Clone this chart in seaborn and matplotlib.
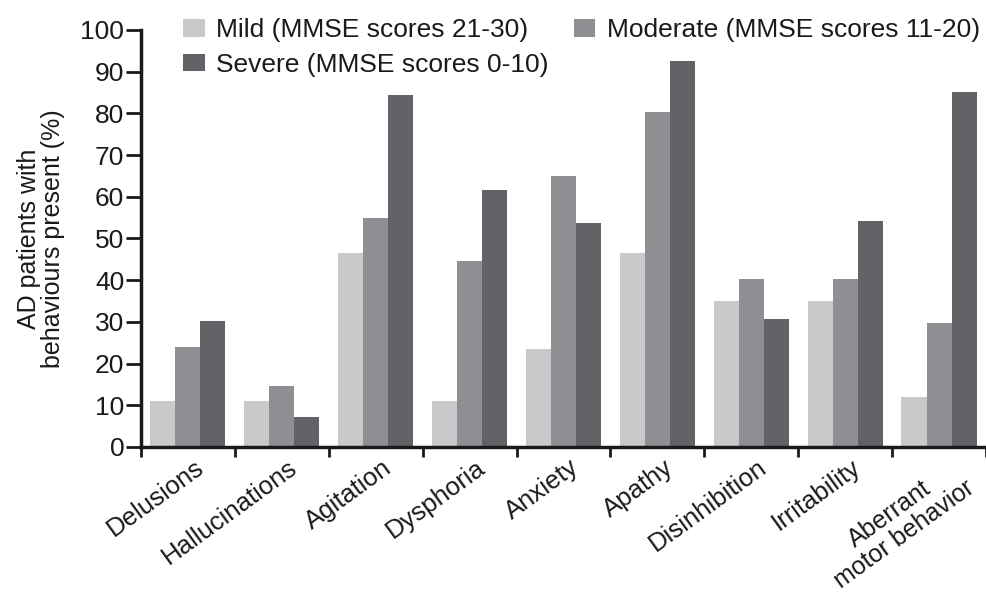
import pandas as pd
import numpy as np
import matplotlib
matplotlib.use("Agg")
import matplotlib.pyplot as plt
import matplotlib.transforms as mtransforms
import seaborn as sns

behaviours = ["Delusions", "Hallucinations", "Agitation", "Dysphoria", "Anxiety",
              "Apathy", "Disinhibition", "Irritability", "Aberrant\nmotor behavior"]
mild = [11.0, 11.0, 46.6, 11.0, 23.6, 46.6, 35.0, 35.0, 12.0]
moderate = [24.0, 14.7, 54.9, 44.6, 65.0, 80.4, 40.2, 40.3, 29.8]
severe = [30.3, 7.1, 84.5, 61.6, 53.6, 92.6, 30.8, 54.3, 85.2]

groups = ["Mild (MMSE scores 21-30)", "Moderate (MMSE scores 11-20)", "Severe (MMSE scores 0-10)"]
colors = ["#c8c9cb", "#8e8f93", "#626366"]

df = pd.DataFrame({"behaviour": behaviours, groups[0]: mild, groups[1]: moderate, groups[2]: severe})
df = df.melt(id_vars="behaviour", var_name="group", value_name="pct")

sns.set_style("ticks")
plt.rcParams["font.family"] = ["Liberation Sans", "DejaVu Sans"]
plt.rcParams["text.color"] = "#1a1a1a"

fig = plt.figure(figsize=(9.86, 5.94), dpi=100)
ax = fig.add_axes([0.143, 0.2475, 0.857, 0.702])

sns.barplot(data=df, x="behaviour", y="pct", hue="group", hue_order=groups,
            palette=colors, width=0.8, ax=ax, saturation=1, edgecolor="none")

ax.set_ylim(0, 100)
ax.set_xlim(-0.5, 8.5)
ax.set_yticks(range(0, 101, 10))
ax.tick_params(axis="y", labelsize=19, length=11, width=2, pad=1,
               direction="out", colors="#1a1a1a")
ax.set_xticks(range(len(behaviours)))
ax.set_xticklabels(behaviours, rotation=36, ha="right", va="top", rotation_mode="anchor",
                   fontsize=18.5, multialignment="center", linespacing=1.05,
                   color="#1a1a1a")
ax.tick_params(axis="x", which="major", length=0, pad=6)
shift = mtransforms.ScaledTranslation(6 / 100, 0, fig.dpi_scale_trans)
for lbl in ax.get_xticklabels():
    lbl.set_transform(lbl.get_transform() + shift)
# the two-line label sits a little further right and is slightly smaller
last = ax.get_xticklabels()[-1]
last.set_fontsize(18)
last.set_transform(last.get_transform() + mtransforms.ScaledTranslation(5 / 100, 0, fig.dpi_scale_trans))
ax.set_xticks(np.arange(-0.5, 9, 1.0), minor=True)
ax.tick_params(axis="x", which="minor", length=7, width=2, direction="out", color="#1a1a1a")

for s in ["top", "right"]:
    ax.spines[s].set_visible(False)
ax.spines["left"].set_linewidth(2.5)
ax.spines["bottom"].set_linewidth(2.5)
ax.spines["left"].set_color("#1a1a1a")
ax.spines["bottom"].set_color("#1a1a1a")

ax.set_xlabel("")
ax.set_ylabel("AD patients with\nbehaviours present (%)", fontsize=18,
              linespacing=1.0, color="#1a1a1a")
ax.yaxis.set_label_coords(-0.09, 0.5)

handles, labels = ax.get_legend_handles_labels()
ax.get_legend().remove()
order = [0, 2, 1]
fig.legend([handles[i] for i in order], [labels[i] for i in order],
           loc="upper left", bbox_to_anchor=(0.162, 1.009), ncol=2, frameon=False,
           fontsize=19, handlelength=0.8, handleheight=0.65, columnspacing=0.95,
           labelspacing=0.4, handletextpad=0.45)

fig.savefig("out.png", dpi=100)
